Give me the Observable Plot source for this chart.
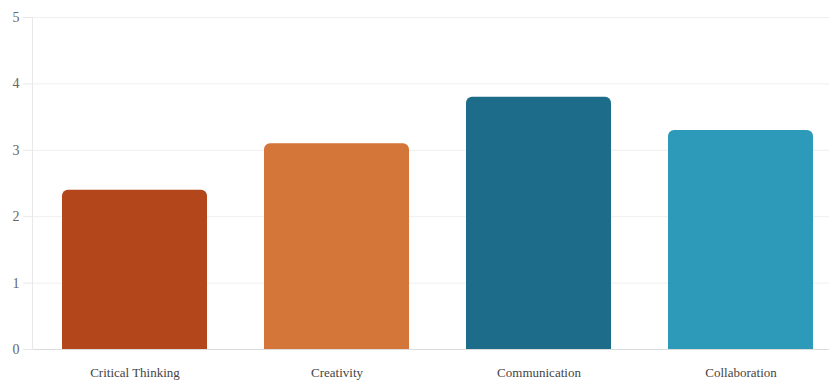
<!DOCTYPE html>
<html>
<head>
<meta charset="utf-8">
<script src="https://cdn.jsdelivr.net/npm/d3@7"></script>
<script src="https://cdn.jsdelivr.net/npm/@observablehq/plot@0.6"></script>
<style>
  html, body { margin: 0; padding: 0; background: #fff; }
  svg text { font-family: "Liberation Serif", "Times New Roman", serif; }
</style>
</head>
<body>
<div id="chart"></div>
<script>
const categories = ["Critical Thinking", "Creativity", "Communication", "Collaboration"];
const values = [2.4, 3.1, 3.8, 3.3];
const colors = ["#b4461b", "#d4763a", "#1c6c8a", "#2d9aba"];
const yTicks = [0, 1, 2, 3, 4, 5];

const data = categories.map((c, i) => ({category: c, value: values[i]}));

const chart = Plot.plot({
  width: 829,
  height: 381,
  marginTop: 17,
  marginBottom: 32,
  marginLeft: 32,
  marginRight: 0,
  style: {fontFamily: "'Liberation Serif', 'Times New Roman', serif", fontSize: "13px", color: "#555", background: "#fff"},
  x: {domain: categories, range: [32, 842], paddingInner: 0.283, paddingOuter: 0.143, label: null},
  y: {domain: [0, 5], label: null},
  color: {domain: categories, range: colors},
  marks: [
    Plot.ruleY(yTicks.slice(1), {stroke: "#efefef", strokeWidth: 1}),
    Plot.barY(data, {x: "category", y: "value", fill: "category", ry1: 6}),
    Plot.ruleY([0], {stroke: "#dcdcdc", strokeWidth: 1}),
    Plot.frame({anchor: "left", stroke: "#e8e8e8"}),
    Plot.axisY({ticks: yTicks, tickFormat: d3.format("d"), tickSize: 9, tickPadding: 4, stroke: "#e8e8e8", strokeOpacity: 1, fill: "#666", fontSize: 14, label: null}),
    Plot.axisX({tickSize: 0, tickPadding: 18, fill: "#444", label: null})
  ]
});
document.getElementById("chart").appendChild(chart);
</script>
</body>
</html>
